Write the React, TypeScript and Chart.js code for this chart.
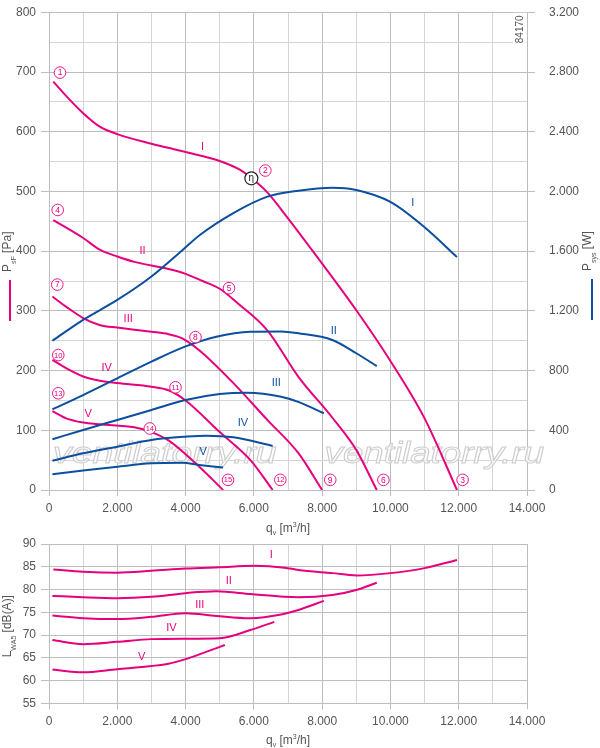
import React, { useEffect, useRef } from "react";
import { Chart, registerables } from "chart.js";

Chart.register(...registerables);

const PINK = "#e6007e";
const BLUE = "#0b4f9e";
const TXT = "#555555";
const GRID_MAJOR = "#bdbdbd";
const GRID_MINOR = "#d5d5d5";
const FONT = "'Liberation Sans', Arial, Helvetica, sans-serif";

const curveNames = ["I", "II", "III", "IV", "V"];

// static pressure p_sF [Pa] vs q_v [m3/h]
const pressureI = [[126, 684], [500, 660], [1000, 631], [1500, 608], [2000, 596], [3000, 580], [4000, 566], [5000, 551], [5600, 536], [6000, 519], [6400, 498], [7000, 455], [7700, 402], [9000, 301], [10000, 216], [11000, 120], [11950, 0]];
const pressureII = [[126, 452], [1000, 422], [1500, 402], [2000, 391], [2500, 382], [3500, 370], [4000, 362], [4500, 350], [5000, 337], [5500, 314], [6400, 267], [7300, 190], [8300, 121], [9000, 67], [9600, 0]];
const pressureIII = [[100, 324], [500, 307], [1000, 288], [1500, 276], [2000, 272], [3000, 265], [3500, 261], [3900, 254], [4400, 234], [5400, 179], [6400, 117], [7300, 62], [8000, 0]];
const pressureIV = [[100, 218], [500, 204], [1000, 190], [1500, 183], [2000, 179], [3000, 173], [3500, 167], [4000, 150], [5000, 97], [5900, 50], [6550, 0]];
const pressureV = [[100, 132], [500, 120], [1000, 113], [1500, 110], [2500, 105], [3000, 97], [3500, 83], [4400, 39], [5100, 0]];

// power P_sys [W]
const powerI = [[100, 1000], [1000, 1140], [2000, 1273], [3000, 1430], [3900, 1605], [4400, 1705], [5400, 1855], [6400, 1965], [7300, 2005], [8300, 2025], [9000, 2010], [10000, 1930], [11000, 1760], [11950, 1560]];
const powerII = [[100, 540], [1000, 636], [2000, 748], [3000, 860], [4000, 962], [4900, 1027], [5900, 1060], [6800, 1062], [7300, 1050], [8300, 1005], [9000, 916], [9600, 830]];
const powerIII = [[100, 340], [1000, 402], [2000, 469], [3000, 536], [4000, 603], [5000, 643], [5800, 652], [6800, 625], [7300, 590], [8050, 514]];
const powerIV = [[100, 196], [1000, 246], [2000, 290], [3000, 335], [4000, 357], [4600, 364], [5400, 353], [6550, 295]];
const powerV = [[100, 105], [1000, 130], [2000, 156], [3000, 179], [3900, 183], [4400, 168], [5100, 150]];

// sound power L_WA5 [dB(A)]
const soundI = [[126, 84.4], [1000, 83.9], [2000, 83.7], [3000, 84.1], [4000, 84.6], [5000, 84.9], [6000, 85.2], [6900, 84.8], [7300, 84.3], [8300, 83.6], [9000, 83.1], [10000, 83.6], [11000, 84.7], [11950, 86.5]];
const soundII = [[100, 78.6], [1000, 78.3], [2000, 78.1], [3000, 78.4], [4000, 79.2], [4900, 79.6], [5900, 79.0], [6900, 78.4], [7300, 78.3], [8300, 78.8], [9000, 79.9], [9600, 81.5]];
const soundIII = [[100, 74.3], [1000, 73.7], [2000, 73.5], [3000, 74.0], [4000, 74.8], [4900, 74.2], [5900, 73.7], [6800, 74.5], [7300, 75.5], [8050, 77.5]];
const soundIV = [[100, 68.9], [1000, 68.0], [2000, 68.5], [3000, 69.1], [4000, 69.2], [5000, 69.3], [5900, 71.1], [6600, 72.9]];
const soundV = [[100, 62.4], [1000, 61.8], [2000, 62.5], [3000, 63.2], [3500, 63.7], [4000, 64.7], [4600, 66.3], [5150, 67.8]];

const pressureCurves = [pressureI, pressureII, pressureIII, pressureIV, pressureV];
const powerCurves = [powerI, powerII, powerIII, powerIV, powerV];
const soundCurves = [soundI, soundII, soundIII, soundIV, soundV];

// curve name label anchors
const pressureLabelQ = [4494, 2740, 2319, 1687, 1150];
const pressureLabelP = [575, 401, 287, 205, 128];
const powerLabelQ = [10653, 8342, 6657, 5682, 4512];
const powerLabelW = [1920, 1065, 715, 447, 257];
const soundLabelQ = [6511, 5263, 4415, 3588, 2711];
const soundLabelL = [87.6, 81.9, 76.6, 71.5, 65.2];

// numbered operating points
const markerNumbers = ["1", "2", "3", "4", "5", "6", "7", "8", "9", "10", "11", "12", "13", "14", "15"];
const markerQ = [322, 6336, 12114, 254, 5272, 9795, 243, 4290, 8237, 272, 3705, 6775, 272, 2953, 5243];
const markerP = [699, 535, 17, 469, 338, 17, 344, 256, 17, 226, 172, 17, 162, 103, 17];
const etaPoint = [5927, 522];

const watermarkText = "ventilatorry.ru";
const watermarkQ = [[117, 6667], [8070, 14500]];
const watermarkP = 45;

const fmt = (v: number) => String(v).replace(/\B(?=(\d{3})+(?!\d))/g, ".");

type Seg = [string, number, number];
function segWidth(ctx: CanvasRenderingContext2D, segs: Seg[]) {
  let w = 0;
  for (const [t, s] of segs) {
    ctx.font = `${s}px ${FONT}`;
    w += ctx.measureText(t).width;
  }
  return w;
}
function drawSegs(ctx: CanvasRenderingContext2D, segs: Seg[], x: number, y: number) {
  let cx = x;
  ctx.textBaseline = "alphabetic";
  ctx.textAlign = "left";
  for (const [t, s, dy] of segs) {
    ctx.font = `${s}px ${FONT}`;
    ctx.fillText(t, cx, y + dy);
    cx += ctx.measureText(t).width;
  }
}
const xTitle: Seg[] = [["q", 12, 0], ["v", 7, 3], [" [m", 12, 0], ["3", 7, -5], ["/h]", 12, 0]];
const pTitle: Seg[] = [["P", 12, 0], ["sF", 7, 5], [" [Pa]", 12, 0]];
const wTitle: Seg[] = [["P", 12, 0], ["sys", 7, 5], [" [W]", 12, 0]];
const lTitle: Seg[] = [["L", 12, 0], ["WA5", 7, 5], [" [dB(A)]", 12, 0]];

function drawXTitle(chart: any, offset: number) {
  const ctx = chart.ctx as CanvasRenderingContext2D;
  const a = chart.chartArea;
  ctx.save();
  ctx.fillStyle = TXT;
  const w = segWidth(ctx, xTitle);
  drawSegs(ctx, xTitle, (a.left + a.right) / 2 - w / 2, a.bottom + offset);
  ctx.restore();
}
function drawVTitle(chart: any, segs: Seg[], x: number, y: number) {
  const ctx = chart.ctx as CanvasRenderingContext2D;
  ctx.save();
  ctx.fillStyle = TXT;
  ctx.translate(x, y);
  ctx.rotate(-Math.PI / 2);
  drawSegs(ctx, segs, 0, 0);
  ctx.restore();
}

function xScale(height: number): any {
  return {
    type: "linear",
    min: 0,
    max: 14000,
    ticks: {
      stepSize: 1000,
      autoSkip: false,
      maxRotation: 0,
      color: TXT,
      padding: 5,
      font: { family: FONT, size: 12 },
      callback: (v: number) => (v % 2000 === 0 ? fmt(v) : ""),
    },
    grid: {
      color: (c: any) => (c.tick && c.tick.value % 2000 === 0 ? GRID_MAJOR : GRID_MINOR),
      tickColor: (c: any) => (c.tick && c.tick.value % 2000 === 0 ? GRID_MAJOR : "rgba(0,0,0,0)"),
      tickLength: 6,
    },
    border: { color: GRID_MAJOR },
    afterFit: (s: any) => {
      s.height = height;
    },
  };
}

const topOverlay = {
  id: "topOverlay",
  beforeDatasetsDraw(chart: any) {
    const ctx = chart.ctx as CanvasRenderingContext2D;
    const x = chart.scales.x;
    const y = chart.scales.y;
    const a = chart.chartArea;
    // watermark
    ctx.save();
    ctx.font = `italic 30px ${FONT}`;
    ctx.textBaseline = "alphabetic";
    ctx.textAlign = "left";
    const natural = ctx.measureText(watermarkText).width;
    for (const [q0, q1] of watermarkQ) {
      const px0 = x.getPixelForValue(q0);
      const px1 = x.getPixelForValue(q1);
      ctx.save();
      ctx.translate(px0, y.getPixelForValue(watermarkP));
      ctx.scale((px1 - px0) / natural, 1);
      ctx.fillStyle = "rgba(255,255,255,0.75)";
      ctx.fillText(watermarkText, 0, 0);
      ctx.lineWidth = 1;
      ctx.strokeStyle = "#cdcdcd";
      ctx.strokeText(watermarkText, 0, 0);
      ctx.restore();
    }
    ctx.restore();
    // drawing number
    ctx.save();
    ctx.fillStyle = "#ffffff";
    ctx.fillRect(a.right - 14, a.top + 0.5, 13.5, 34);
    ctx.fillStyle = TXT;
    ctx.font = `10px ${FONT}`;
    ctx.translate(a.right - 6.5, a.top + 17);
    ctx.rotate(-Math.PI / 2);
    ctx.textAlign = "center";
    ctx.textBaseline = "middle";
    ctx.fillText("84170", 0, 0);
    ctx.restore();
  },
  afterDatasetsDraw(chart: any) {
    const ctx = chart.ctx as CanvasRenderingContext2D;
    const x = chart.scales.x;
    const y = chart.scales.y;
    const y1 = chart.scales.y1;
    ctx.save();
    ctx.textAlign = "center";
    ctx.textBaseline = "middle";
    ctx.font = `11px ${FONT}`;
    curveNames.forEach((n, i) => {
      ctx.fillStyle = PINK;
      ctx.fillText(n, x.getPixelForValue(pressureLabelQ[i]), y.getPixelForValue(pressureLabelP[i]));
      ctx.fillStyle = BLUE;
      ctx.fillText(n, x.getPixelForValue(powerLabelQ[i]), y1.getPixelForValue(powerLabelW[i]));
    });
    // numbered points
    markerNumbers.forEach((n, i) => {
      const px = x.getPixelForValue(markerQ[i]);
      const py = y.getPixelForValue(markerP[i]);
      ctx.beginPath();
      ctx.arc(px, py, 5.8, 0, Math.PI * 2);
      ctx.fillStyle = "#ffffff";
      ctx.fill();
      ctx.lineWidth = 0.9;
      ctx.strokeStyle = PINK;
      ctx.stroke();
      ctx.fillStyle = PINK;
      ctx.font = `${n.length > 1 ? 7.5 : 8.5}px ${FONT}`;
      ctx.fillText(n, px, py + 0.5);
    });
    // efficiency point
    const ex = x.getPixelForValue(etaPoint[0]);
    const ey = y.getPixelForValue(etaPoint[1]);
    ctx.beginPath();
    ctx.arc(ex, ey, 6.5, 0, Math.PI * 2);
    ctx.fillStyle = "#ffffff";
    ctx.fill();
    ctx.lineWidth = 1.2;
    ctx.strokeStyle = "#222222";
    ctx.stroke();
    ctx.fillStyle = "#222222";
    ctx.font = `10px ${FONT}`;
    ctx.fillText("η", ex, ey);
    ctx.restore();
  },
  afterDraw(chart: any) {
    const ctx = chart.ctx as CanvasRenderingContext2D;
    const a = chart.chartArea;
    drawXTitle(chart, 42);
    drawVTitle(chart, pTitle, 10.5, a.bottom - 218);
    drawVTitle(chart, wTitle, 590.5, a.bottom - 219);
    ctx.save();
    ctx.fillStyle = PINK;
    ctx.fillRect(9, a.bottom - 210, 2, 41);
    ctx.fillStyle = BLUE;
    ctx.fillRect(591, a.bottom - 211, 2, 41);
    ctx.restore();
  },
};

const bottomOverlay = {
  id: "bottomOverlay",
  afterDatasetsDraw(chart: any) {
    const ctx = chart.ctx as CanvasRenderingContext2D;
    const x = chart.scales.x;
    const y = chart.scales.y;
    ctx.save();
    ctx.textAlign = "center";
    ctx.textBaseline = "middle";
    ctx.font = `11px ${FONT}`;
    ctx.fillStyle = PINK;
    curveNames.forEach((n, i) => {
      ctx.fillText(n, x.getPixelForValue(soundLabelQ[i]), y.getPixelForValue(soundLabelL[i]));
    });
    ctx.restore();
  },
  afterDraw(chart: any) {
    const a = chart.chartArea;
    drawXTitle(chart, 41);
    drawVTitle(chart, lTitle, 10.5, a.bottom - 46);
  },
};

const toXY = (arr: number[][]) => arr.map(([q, v]) => ({ x: q, y: v }));

export default function App() {
  const topRef = useRef<HTMLCanvasElement>(null);
  const botRef = useRef<HTMLCanvasElement>(null);

  useEffect(() => {
    const common = {
      pointRadius: 0,
      borderWidth: 2,
      fill: false,
      cubicInterpolationMode: "monotone" as const,
    };
    const topDatasets: any[] = [];
    powerCurves.forEach((c, i) => {
      topDatasets.push({ ...common, label: "P " + curveNames[i], data: toXY(c), borderColor: BLUE, yAxisID: "y1", order: 0 });
    });
    pressureCurves.forEach((c, i) => {
      topDatasets.push({ ...common, label: "p " + curveNames[i], data: toXY(c), borderColor: PINK, yAxisID: "y", order: 1 });
    });

    const top = new Chart(topRef.current as HTMLCanvasElement, {
      type: "line",
      data: { datasets: topDatasets },
      plugins: [topOverlay],
      options: {
        animation: false,
        responsive: false,
        devicePixelRatio: 1,
        layout: { padding: { top: 21.3, left: 0, right: 0, bottom: 0 } },
        plugins: { legend: { display: false }, tooltip: { enabled: false } },
        scales: {
          x: xScale(45),
          y: {
            type: "linear",
            position: "left",
            min: 0,
            max: 800,
            ticks: {
              stepSize: 50,
              autoSkip: false,
              color: TXT,
              padding: 5,
              font: { family: FONT, size: 12 },
              callback: (v: number) => (v % 100 === 0 ? String(v) : ""),
            },
            grid: {
              color: (c: any) => (c.tick && c.tick.value % 100 === 0 ? GRID_MAJOR : GRID_MINOR),
              tickColor: (c: any) => (c.tick && c.tick.value % 100 === 0 ? GRID_MAJOR : "rgba(0,0,0,0)"),
              tickLength: 8,
            },
            border: { color: GRID_MAJOR },
            afterFit: (s: any) => {
              s.width = 49;
            },
          },
          y1: {
            type: "linear",
            position: "right",
            min: 0,
            max: 3200,
            ticks: {
              stepSize: 200,
              autoSkip: false,
              color: TXT,
              padding: 14,
              font: { family: FONT, size: 12 },
              callback: (v: number) => (v % 400 === 0 ? fmt(v) : ""),
            },
            grid: {
              drawOnChartArea: false,
              tickColor: (c: any) => (c.tick && c.tick.value % 400 === 0 ? GRID_MAJOR : "rgba(0,0,0,0)"),
              tickLength: 8,
            },
            border: { color: GRID_MAJOR },
            afterFit: (s: any) => {
              s.width = 73;
            },
          },
        },
      } as any,
    });

    const bot = new Chart(botRef.current as HTMLCanvasElement, {
      type: "line",
      data: {
        datasets: soundCurves.map((c, i) => ({ ...common, label: "L " + curveNames[i], data: toXY(c), borderColor: PINK })),
      },
      plugins: [bottomOverlay],
      options: {
        animation: false,
        responsive: false,
        devicePixelRatio: 1,
        layout: { padding: { top: 14, left: 0, right: 73, bottom: 0 } },
        plugins: { legend: { display: false }, tooltip: { enabled: false } },
        scales: {
          x: xScale(44.7),
          y: {
            type: "linear",
            min: 55,
            max: 90,
            ticks: {
              stepSize: 5,
              autoSkip: false,
              color: TXT,
              padding: 5,
              font: { family: FONT, size: 12 },
            },
            grid: { color: GRID_MAJOR, tickColor: GRID_MAJOR, tickLength: 8 },
            border: { color: GRID_MAJOR },
            afterFit: (s: any) => {
              s.width = 49;
            },
          },
        },
      } as any,
    });

    return () => {
      top.destroy();
      bot.destroy();
    };
  }, []);

  return (
    <div style={{ position: "absolute", left: 0, top: 0, width: 600, height: 748, background: "#ffffff", overflow: "hidden" }}>
      <canvas ref={topRef} width={600} height={544} style={{ position: "absolute", left: 0, top: -9, display: "block" }} />
      <canvas ref={botRef} width={600} height={218} style={{ position: "absolute", left: 0, top: 530, display: "block" }} />
    </div>
  );
}
